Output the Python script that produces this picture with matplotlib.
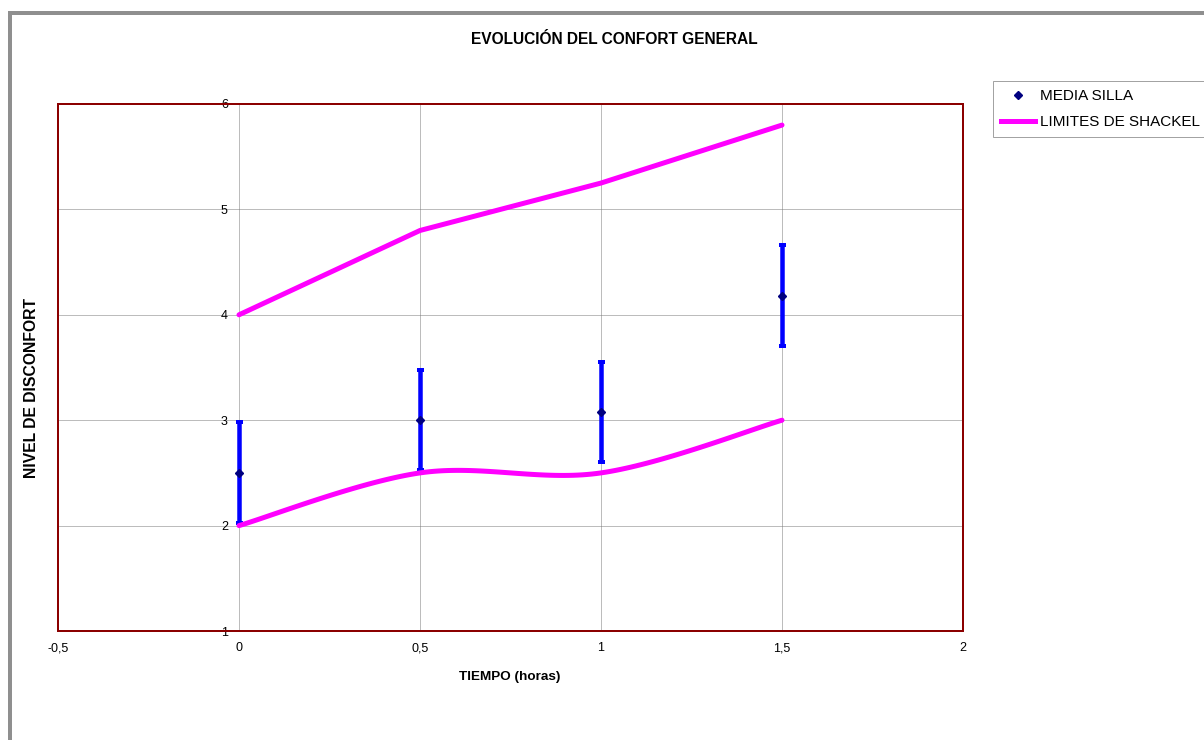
import numpy as np
import matplotlib
matplotlib.use("Agg")
import matplotlib.pyplot as plt
from matplotlib.patches import Rectangle
from matplotlib.lines import Line2D

plt.rcParams['font.family'] = ['Liberation Sans', 'DejaVu Sans']

# ---- data ----
tiempo = [0, 0.5, 1, 1.5]
media_silla = [2.5, 3.0, 3.08, 4.18]
error_silla = [0.48, 0.475, 0.475, 0.48]
shackel_sup = [4.0, 4.8, 5.25, 5.8]
shackel_inf = [2.0, 2.5, 2.5, 3.0]
xticks = [-0.5, 0, 0.5, 1, 1.5, 2]
xtick_labels = ['-0,5', '0', '0,5', '1', '1,5', '2']
yticks = [1, 2, 3, 4, 5, 6]
ytick_labels = ['1', '2', '3', '4', '5', '6']

title = 'EVOLUCIÓN DEL CONFORT GENERAL'
xlabel = 'TIEMPO (horas)'
ylabel = 'NIVEL DE DISCONFORT'


def smooth(xs, ys, n=40):
    """Excel-like smoothed line (Catmull-Rom as cubic Bezier)."""
    P = np.column_stack([xs, ys]).astype(float)
    m = len(P)
    out = []
    for i in range(m - 1):
        p0 = P[i - 1] if i > 0 else P[i]
        p1 = P[i]
        p2 = P[i + 1]
        p3 = P[i + 2] if i + 2 < m else P[i + 1]
        c1 = p1 + (p2 - p0) / 6.0
        c2 = p2 - (p3 - p1) / 6.0
        t = np.linspace(0, 1, n)[:, None]
        seg = ((1 - t) ** 3) * p1 + 3 * ((1 - t) ** 2) * t * c1 + 3 * (1 - t) * t ** 2 * c2 + t ** 3 * p2
        if i > 0:
            seg = seg[1:]
        out.append(seg)
    out = np.vstack(out)
    return out[:, 0], out[:, 1]


W, H = 1204, 740
fig = plt.figure(figsize=(W / 100, H / 100), dpi=100)
ax = fig.add_axes([58 / W, 1 - 631 / H, (963 - 58) / W, (631 - 104) / H])

px = 72 / 100.0  # points per pixel

# grid
ax.set_xlim(-0.5, 2)
ax.set_ylim(1, 6)
ax.set_xticks(xticks)
ax.set_xticklabels(xtick_labels, va='baseline')
ax.set_yticks(yticks)
ax.set_yticklabels(ytick_labels)
ax.grid(True, color='#7a7a7a', linestyle=(0, (1, 1)), linewidth=1 * px, zorder=0)
ax.set_axisbelow(True)

# y axis crosses at x=0
ax.spines['left'].set_position(('data', 0))
ax.spines['left'].set_color('none')
for s in ['top', 'right', 'bottom']:
    ax.spines[s].set_visible(False)
ax.add_patch(Rectangle((0, 0), 1, 1, transform=ax.transAxes, fill=False,
                       edgecolor='#8b0000', linewidth=2 * px, zorder=5, clip_on=False))
ax.tick_params(axis='both', length=0, labelsize=9, colors='black')
ax.tick_params(axis='y', pad=8)
ax.tick_params(axis='x', pad=14.5)

# Shackel limits
ax.plot(tiempo, shackel_sup, color='#ff00ff', linewidth=5 * px, solid_capstyle='round',
        solid_joinstyle='round', zorder=4)
xs, ys = smooth(tiempo, shackel_inf)
ax.plot(xs, ys, color='#ff00ff', linewidth=5 * px, solid_capstyle='round', zorder=4)

# error bars + means
ax.errorbar(tiempo, media_silla, yerr=error_silla, fmt='none', ecolor='#0000ff',
            elinewidth=4.5 * px, capsize=3.5 * px, capthick=4 * px, zorder=3)
ax.plot(tiempo, media_silla, linestyle='none', marker='D', markersize=6 * px,
        color='#000080', zorder=6)

ax.set_xlabel(xlabel, fontsize=9.7, fontweight='bold')
ax.xaxis.set_label_coords((510 - 58) / (963 - 58), (631 - 677) / (631 - 104))
ax.xaxis.label.set_va('center')
fig.text(32 / W, 1 - 388 / H, ylabel, rotation=90, ha='center', va='center',
         fontsize=11.3, fontweight='bold')
fig.text(614 / W, 1 - 40 / H, title, ha='center', va='center', fontsize=11.2, fontweight='bold')

# legend
handles = [Line2D([], [], linestyle='none', marker='D', markersize=6 * px, color='#000080'),
           Line2D([], [], color='#ff00ff', linewidth=5 * px)]
leg = fig.legend(handles, ['MEDIA SILLA', 'LIMITES DE SHACKEL'], loc='upper left',
                 bbox_to_anchor=(993 / W, 1 - 81 / H), fontsize=11, frameon=True,
                 fancybox=False, edgecolor='#8c8c8c', borderpad=0.55, handlelength=2.2,
                 handletextpad=0.33, labelspacing=0.75, borderaxespad=0)
leg.get_frame().set_linewidth(1 * px)

# outer chart border
fig.add_artist(Rectangle((10 / W, -0.05), 1.2, 1 - 13 / H + 0.05, transform=fig.transFigure,
                         fill=False, edgecolor='#8f8f8f', linewidth=4 * px, clip_on=False))

fig.savefig('out.png', dpi=100, facecolor='white')
